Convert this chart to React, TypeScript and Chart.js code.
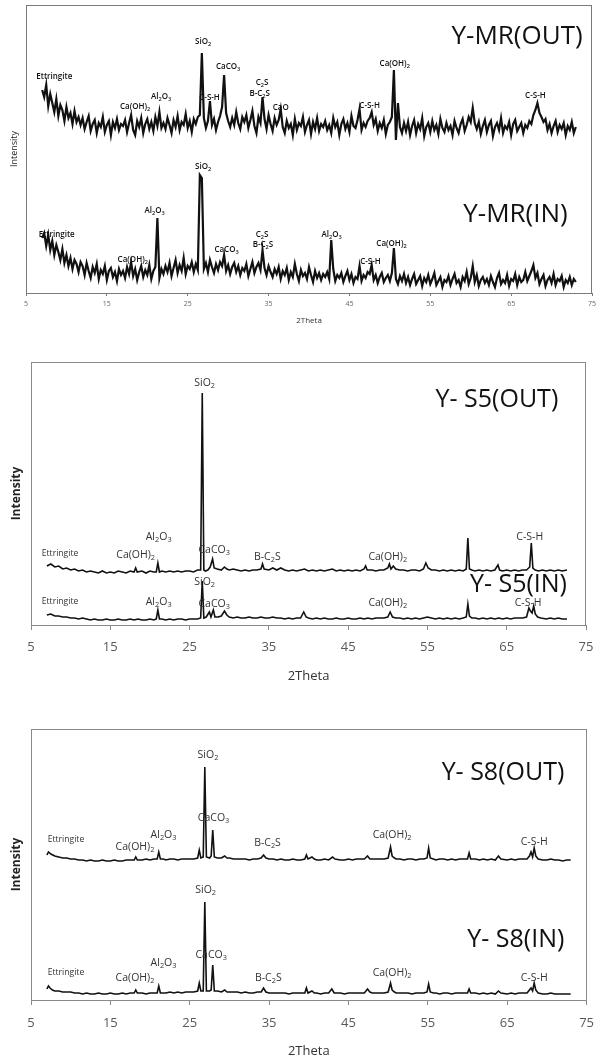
import { useEffect, useRef } from "react";
import { Chart, registerables } from "chart.js";

Chart.register(...registerables);

// ---------------- DATA ----------------
// Y-MR: dense noisy scans sampled every 0.25 deg from 7.0 to 73.0 (2Theta)
const MR_START = 7.0;
const MR_STEP = 0.25;
const mrOut = [
  203, 196, 208, 187, 199, 190, 181, 194, 177, 188, 183, 172, 186, 175, 180, 169, 182, 171, 176, 168,
  175, 164, 171, 177, 162, 169, 173, 160, 170, 166, 176, 161, 168, 172, 158, 171, 165, 174, 163, 169,
  167, 173, 161, 170, 178, 163, 158, 172, 166, 175, 160, 169, 174, 164, 171, 162, 176, 167, 181, 165,
  170, 164, 175, 168, 160, 173, 166, 177, 163, 171, 168, 179, 165, 172, 161, 174, 169, 176, 178, 240,
  175, 165, 172, 192, 168, 174, 163, 171, 177, 186, 218, 180, 172, 166, 175, 168, 181, 170, 164, 176,
  171, 178, 165, 173, 182, 167, 160, 176, 170, 196, 174, 164, 178, 169, 162, 175, 168, 173, 184, 166,
  160, 172, 165, 169, 158, 174, 163, 170, 167, 176, 161, 168, 173, 159, 171, 164, 175, 162, 169, 166,
  172, 163, 168, 160, 175, 166, 171, 158, 169, 174, 164, 170, 161, 177, 167, 165, 173, 184, 163, 170,
  166, 172, 175, 181, 168, 174, 162, 170, 165, 173, 159, 168, 171, 176, 223, 153, 190, 166, 160, 170,
  162, 171, 158, 167, 173, 160, 169, 164, 175, 157, 166, 170, 161, 172, 163, 168, 159, 174, 165, 161,
  170, 163, 167, 158, 172, 165, 160, 169, 174, 162, 168, 176, 171, 185, 170, 164, 171, 159, 167, 173,
  161, 168, 172, 157, 166, 170, 163, 175, 160, 167, 164, 171, 158, 169, 173, 162, 166, 170, 160, 168,
  165, 172, 169, 178, 183, 190, 180, 176, 171, 174, 163, 169, 160, 167, 172, 161, 168, 164, 170, 158,
  167, 163, 171, 160, 166,
];
const mrIn = [
  55, 60, 47, 58, 43, 52, 38, 48, 41, 33, 44, 30, 38, 27, 35, 24, 33, 29, 21, 31,
  27, 18, 30, 22, 15, 26, 20, 29, 14, 23, 19, 27, 13, 22, 25, 16, 21, 12, 24, 18,
  22, 15, 26, 19, 31, 17, 24, 13, 21, 27, 16, 23, 18, 28, 14, 22, 26, 75, 15, 24,
  19, 27, 21, 30, 17, 25, 33, 20, 28, 22, 35, 19, 27, 24, 31, 21, 29, 23, 118, 115,
  24, 30, 21, 33, 26, 20, 29, 23, 31, 27, 38, 22, 28, 19, 26, 30, 21, 27, 18, 25,
  22, 29, 17, 24, 31, 20, 26, 30, 23, 43, 25, 18, 27, 21, 16, 24, 19, 26, 14, 22,
  18, 25, 13, 21, 16, 29, 19, 12, 23, 17, 20, 14, 26, 18, 11, 22, 15, 20, 13, 19,
  16, 21, 14, 53, 24, 12, 18, 15, 20, 11, 17, 22, 13, 19, 10, 16, 14, 27, 12, 18,
  15, 21, 19, 28, 13, 18, 10, 16, 20, 11, 15, 18, 12, 20, 45, 14, 9, 17, 12, 19,
  10, 16, 8, 14, 19, 9, 13, 17, 7, 15, 11, 18, 9, 14, 20, 8, 12, 16, 6, 13,
  11, 17, 8, 14, 19, 10, 13, 6, 16, 12, 21, 9, 15, 27, 11, 18, 7, 13, 16, 10,
  14, 8, 17, 11, 6, 15, 20, 9, 13, 10, 18, 7, 14, 12, 19, 8, 16, 11, 13, 21,
  12, 17, 22, 28, 15, 20, 9, 14, 18, 7, 13, 16, 10, 19, 8, 14, 12, 17, 6, 13,
  10, 16, 8, 14, 11,
];

// Y-S5: [2Theta, intensity]
const s5Out: [number, number][] = [
  [7.0, 59], [7.5, 61], [8.0, 58], [8.5, 59], [9.0, 56], [9.5, 57], [10.0, 55], [10.5, 56], [11.0, 54], [11.5, 55],
  [12.0, 53], [12.5, 54], [13.0, 53], [13.5, 52], [14.0, 54], [14.5, 52], [15.0, 53], [15.5, 52], [16.0, 54], [16.5, 53],
  [17.0, 52], [17.5, 54], [18.0, 53], [18.2, 57], [18.4, 53], [19.0, 54], [19.5, 52], [20.0, 54], [20.5, 53], [20.8, 53],
  [21.0, 62], [21.2, 53], [21.5, 54], [22.0, 53], [22.5, 54], [23.0, 53], [23.5, 54], [24.0, 53], [24.5, 54], [25.0, 54],
  [25.5, 53], [26.0, 55], [26.4, 55], [26.6, 232], [26.8, 55], [27.0, 54], [27.3, 55], [27.6, 58], [27.9, 66], [28.1, 57],
  [28.5, 56], [29.0, 55], [29.4, 58], [29.7, 56], [30.0, 55], [30.5, 56], [31.0, 55], [31.5, 54], [32.0, 55], [32.5, 54],
  [33.0, 55], [33.5, 55], [34.0, 56], [34.2, 61], [34.4, 56], [35.0, 55], [35.5, 57], [36.0, 55], [36.5, 57], [37.0, 55],
  [37.5, 54], [38.0, 55], [38.5, 54], [39.0, 55], [39.5, 56], [40.0, 54], [40.5, 55], [41.0, 54], [41.5, 55], [42.0, 54],
  [42.5, 55], [43.0, 56], [43.5, 54], [44.0, 55], [44.5, 54], [45.0, 55], [45.5, 54], [46.0, 55], [46.5, 54], [47.0, 56],
  [47.2, 59], [47.4, 55], [48.0, 55], [48.5, 54], [49.0, 55], [49.5, 55], [50.0, 57], [50.2, 61], [50.4, 56], [50.7, 59],
  [51.0, 56], [51.5, 55], [52.0, 55], [52.5, 54], [53.0, 55], [53.5, 55], [54.0, 54], [54.5, 56], [54.8, 62], [55.1, 57],
  [55.5, 55], [56.0, 55], [56.5, 54], [57.0, 55], [57.5, 54], [58.0, 55], [58.5, 54], [59.0, 55], [59.5, 54], [59.9, 56],
  [60.1, 87], [60.3, 56], [60.6, 55], [61.0, 54], [61.5, 55], [62.0, 54], [62.5, 55], [63.0, 54], [63.5, 55], [63.9, 60],
  [64.1, 55], [64.5, 54], [65.0, 55], [65.5, 54], [66.0, 55], [66.5, 54], [67.0, 55], [67.5, 55], [67.9, 58], [68.1, 82],
  [68.3, 57], [68.6, 55], [69.0, 54], [69.5, 55], [70.0, 54], [70.5, 55], [71.0, 54], [71.5, 55], [72.0, 54], [72.6, 55],
];
const s5In: [number, number][] = [
  [7.0, 10], [7.5, 11], [8.0, 9], [8.5, 9], [9.0, 8], [9.5, 8], [10.0, 7], [10.5, 7], [11.0, 6], [11.5, 7],
  [12.0, 6], [12.5, 5], [13.0, 6], [13.5, 5], [14.0, 5], [14.5, 6], [15.0, 5], [15.5, 5], [16.0, 6], [16.5, 5],
  [17.0, 5], [17.5, 6], [18.0, 5], [18.5, 6], [19.0, 5], [19.5, 5], [20.0, 6], [20.5, 5], [20.8, 6], [21.0, 15],
  [21.2, 6], [21.5, 6], [22.0, 5], [22.5, 6], [23.0, 5], [23.5, 6], [24.0, 6], [24.5, 5], [25.0, 6], [25.5, 6],
  [26.0, 6], [26.4, 7], [26.6, 44], [26.8, 7], [27.1, 8], [27.5, 13], [27.7, 8], [28.0, 15], [28.2, 8], [28.6, 8],
  [29.0, 9], [29.4, 14], [29.7, 10], [30.0, 8], [30.5, 7], [31.0, 8], [31.5, 7], [32.0, 7], [32.5, 8], [33.0, 7],
  [33.5, 7], [34.0, 8], [34.5, 7], [35.0, 7], [35.5, 8], [36.0, 7], [36.5, 7], [37.0, 6], [37.5, 7], [38.0, 6],
  [38.5, 7], [39.0, 7], [39.4, 13], [39.7, 8], [40.0, 7], [40.5, 6], [41.0, 7], [41.5, 6], [42.0, 7], [42.5, 6],
  [43.0, 6], [43.5, 7], [44.0, 6], [44.5, 6], [45.0, 7], [45.5, 6], [46.0, 6], [46.5, 7], [47.0, 6], [47.5, 7],
  [48.0, 6], [48.5, 7], [49.0, 7], [49.5, 7], [50.0, 8], [50.3, 13], [50.6, 8], [51.0, 7], [51.5, 7], [52.0, 6],
  [52.5, 7], [53.0, 6], [53.5, 7], [54.0, 6], [54.5, 7], [55.0, 8], [55.5, 7], [56.0, 6], [56.5, 7], [57.0, 6],
  [57.5, 7], [58.0, 6], [58.5, 7], [59.0, 6], [59.5, 7], [59.9, 8], [60.1, 21], [60.3, 9], [60.6, 7], [61.0, 7],
  [61.5, 6], [62.0, 7], [62.5, 6], [63.0, 7], [63.5, 6], [64.0, 7], [64.5, 6], [65.0, 7], [65.5, 6], [66.0, 7],
  [66.5, 7], [67.0, 7], [67.5, 8], [67.8, 17], [68.0, 14], [68.2, 12], [68.4, 19], [68.6, 11], [68.9, 8], [69.3, 7],
  [70.0, 6], [70.5, 7], [71.0, 6], [71.5, 7], [72.0, 6], [72.6, 6],
];

// Y-S8: [2Theta, intensity]
const s8Out: [number, number][] = [
  [7.0, 145], [7.2, 148], [7.5, 146], [8.0, 144], [8.5, 143], [9.0, 142], [9.5, 142], [10.0, 141], [10.5, 141], [11.0, 140],
  [11.5, 140], [12.0, 139], [12.5, 140], [13.0, 139], [13.5, 139], [14.0, 140], [14.5, 139], [15.0, 139], [15.5, 140], [16.0, 139],
  [16.5, 139], [17.0, 140], [17.5, 140], [18.0, 140], [18.2, 143], [18.4, 140], [19.0, 140], [19.5, 141], [20.0, 140], [20.5, 141],
  [20.9, 141], [21.1, 148], [21.3, 141], [21.7, 141], [22.0, 140], [22.5, 141], [23.0, 141], [23.5, 140], [24.0, 141], [24.5, 141],
  [25.0, 141], [25.5, 141], [26.0, 142], [26.2, 150], [26.4, 142], [26.7, 143], [26.9, 233], [27.1, 143], [27.5, 142], [27.7, 144],
  [27.9, 170], [28.1, 143], [28.5, 142], [29.0, 142], [29.4, 144], [29.7, 142], [30.0, 142], [30.5, 141], [31.0, 141], [31.5, 141],
  [32.0, 141], [32.5, 140], [33.0, 141], [33.5, 141], [34.0, 142], [34.3, 145], [34.6, 142], [35.0, 141], [35.5, 141], [36.0, 140],
  [36.5, 141], [37.0, 140], [37.5, 140], [38.0, 141], [38.5, 140], [39.0, 140], [39.5, 141], [39.7, 145], [39.9, 141], [40.4, 143],
  [40.7, 141], [41.0, 140], [41.5, 140], [42.0, 141], [42.5, 140], [43.0, 143], [43.3, 141], [44.0, 140], [44.5, 140], [45.0, 141],
  [45.5, 140], [46.0, 141], [46.5, 141], [47.0, 141], [47.4, 144], [47.7, 141], [48.0, 141], [48.5, 141], [49.0, 141], [49.5, 141],
  [50.0, 142], [50.3, 153], [50.5, 144], [50.8, 142], [51.0, 141], [51.5, 141], [52.0, 140], [52.5, 141], [53.0, 141], [53.5, 140],
  [54.0, 141], [54.5, 141], [54.9, 142], [55.1, 152], [55.3, 142], [55.7, 141], [56.0, 140], [56.5, 141], [57.0, 141], [57.5, 140],
  [58.0, 141], [58.5, 140], [59.0, 141], [59.5, 141], [60.0, 141], [60.2, 147], [60.4, 141], [61.0, 141], [61.5, 140], [62.0, 141],
  [62.5, 140], [63.0, 141], [63.5, 140], [63.9, 144], [64.2, 141], [65.0, 140], [65.5, 141], [66.0, 140], [66.5, 141], [67.0, 141],
  [67.5, 141], [67.8, 144], [68.0, 148], [68.2, 143], [68.4, 152], [68.6, 144], [68.9, 141], [69.5, 140], [70.0, 140], [70.5, 141],
  [71.0, 140], [71.5, 140], [72.0, 139], [72.5, 140], [73.0, 140],
];
const s8In: [number, number][] = [
  [7.0, 11], [7.2, 14], [7.4, 12], [7.7, 10], [8.0, 9], [8.5, 9], [9.0, 8], [9.5, 8], [10.0, 8], [10.5, 7],
  [11.0, 7], [11.5, 6], [12.0, 7], [12.5, 6], [13.0, 6], [13.5, 7], [14.0, 6], [14.5, 6], [15.0, 7], [15.5, 6],
  [16.0, 6], [16.5, 7], [17.0, 6], [17.5, 7], [18.0, 7], [18.2, 10], [18.4, 7], [19.0, 7], [19.5, 6], [20.0, 7],
  [20.5, 7], [20.9, 7], [21.1, 14], [21.3, 7], [21.7, 7], [22.0, 7], [22.5, 8], [23.0, 7], [23.5, 8], [24.0, 7],
  [24.5, 8], [25.0, 8], [25.5, 8], [26.0, 9], [26.2, 17], [26.4, 9], [26.7, 9], [26.9, 98], [27.1, 9], [27.5, 9],
  [27.7, 10], [27.9, 35], [28.1, 9], [28.5, 9], [29.0, 8], [29.4, 10], [29.7, 8], [30.0, 8], [30.5, 8], [31.0, 8],
  [31.5, 7], [32.0, 8], [32.5, 7], [33.0, 7], [33.5, 8], [34.0, 8], [34.3, 12], [34.6, 8], [35.0, 7], [35.5, 7],
  [36.0, 7], [36.5, 7], [37.0, 7], [37.5, 6], [38.0, 7], [38.5, 7], [39.0, 7], [39.5, 7], [39.7, 12], [39.9, 7],
  [40.4, 9], [40.7, 7], [41.0, 7], [41.5, 6], [42.0, 7], [42.5, 7], [42.9, 11], [43.2, 7], [44.0, 7], [44.5, 6],
  [45.0, 7], [45.5, 7], [46.0, 7], [46.5, 7], [47.0, 7], [47.4, 11], [47.7, 8], [48.0, 7], [48.5, 7], [49.0, 7],
  [49.5, 7], [50.0, 8], [50.3, 17], [50.5, 10], [50.8, 8], [51.0, 7], [51.5, 7], [52.0, 7], [52.5, 7], [53.0, 6],
  [53.5, 7], [54.0, 7], [54.5, 7], [54.9, 8], [55.1, 16], [55.3, 8], [55.7, 7], [56.0, 7], [56.5, 6], [57.0, 7],
  [57.5, 7], [58.0, 6], [58.5, 7], [59.0, 7], [59.5, 7], [60.0, 7], [60.2, 11], [60.4, 7], [61.0, 7], [61.5, 6],
  [62.0, 7], [62.5, 6], [63.0, 7], [63.5, 6], [63.9, 9], [64.2, 7], [65.0, 6], [65.5, 7], [66.0, 6], [66.5, 7],
  [67.0, 7], [67.5, 7], [67.8, 10], [68.0, 12], [68.2, 9], [68.4, 17], [68.6, 10], [68.9, 7], [69.5, 6], [70.0, 6],
  [70.5, 7], [71.0, 6], [71.5, 6], [72.0, 6], [72.5, 6], [73.0, 6],
];

// Phase labels: text, 2Theta, intensity
type Lbl = { t: string; x: number; y: number };
const mrPhases: Lbl[] = [
  { t: "Ettringite", x: 8.5, y: 216 }, { t: "Ca(OH)2", x: 18.5, y: 186 }, { t: "Al2O3", x: 21.7, y: 196 },
  { t: "SiO2", x: 26.9, y: 251 }, { t: "C-S-H", x: 27.7, y: 195 }, { t: "CaCO3", x: 30.0, y: 226 },
  { t: "C2S", x: 34.2, y: 210 }, { t: "B-C2S", x: 33.9, y: 199 }, { t: "CaO", x: 36.5, y: 185 },
  { t: "C-S-H", x: 47.5, y: 187 }, { t: "Ca(OH)2", x: 50.6, y: 229 }, { t: "C-S-H", x: 68.0, y: 197 },
  { t: "Ettringite", x: 8.8, y: 58 }, { t: "Ca(OH)2", x: 18.2, y: 33 }, { t: "Al2O3", x: 20.9, y: 82 },
  { t: "SiO2", x: 26.9, y: 126 }, { t: "CaCO3", x: 29.8, y: 43 }, { t: "C2S", x: 34.2, y: 58 },
  { t: "B-C2S", x: 34.3, y: 48 }, { t: "Al2O3", x: 42.8, y: 58 }, { t: "C-S-H", x: 47.6, y: 31 },
  { t: "Ca(OH)2", x: 50.2, y: 49 },
];
const mrNames: Lbl[] = [{ t: "Y-MR(OUT)", x: 73.85, y: 256 }, { t: "Y-MR(IN)", x: 72.0, y: 78 }];

const s5Phases: Lbl[] = [
  { t: "Ettringite", x: 8.66, y: 71 }, { t: "Ca(OH)2", x: 18.2, y: 70 }, { t: "Al2O3", x: 21.1, y: 88 },
  { t: "SiO2", x: 26.9, y: 242 }, { t: "CaCO3", x: 28.1, y: 75 }, { t: "B-C2S", x: 34.8, y: 68 },
  { t: "Ca(OH)2", x: 50.0, y: 68 }, { t: "C-S-H", x: 67.9, y: 88 },
  { t: "Ettringite", x: 8.66, y: 23 }, { t: "Al2O3", x: 21.1, y: 23 }, { t: "SiO2", x: 26.9, y: 43 },
  { t: "CaCO3", x: 28.1, y: 21 }, { t: "Ca(OH)2", x: 50.0, y: 22 }, { t: "C-S-H", x: 67.7, y: 22 },
];
const s5Names: Lbl[] = [{ t: "Y- S5(OUT)", x: 71.5, y: 225 }, { t: "Y- S5(IN)", x: 72.6, y: 40 }];

const s8Phases: Lbl[] = [
  { t: "Ettringite", x: 9.4, y: 160 }, { t: "Ca(OH)2", x: 18.1, y: 153 }, { t: "Al2O3", x: 21.7, y: 165 },
  { t: "SiO2", x: 27.3, y: 245 }, { t: "CaCO3", x: 28.0, y: 182 }, { t: "B-C2S", x: 34.8, y: 157 },
  { t: "Ca(OH)2", x: 50.5, y: 165 }, { t: "C-S-H", x: 68.4, y: 158 },
  { t: "Ettringite", x: 9.4, y: 27 }, { t: "Ca(OH)2", x: 18.1, y: 22 }, { t: "Al2O3", x: 21.7, y: 37 },
  { t: "SiO2", x: 27.0, y: 110 }, { t: "CaCO3", x: 27.7, y: 45 }, { t: "B-C2S", x: 34.9, y: 22 },
  { t: "Ca(OH)2", x: 50.5, y: 27 }, { t: "C-S-H", x: 68.4, y: 22 },
];
const s8Names: Lbl[] = [{ t: "Y- S8(OUT)", x: 72.2, y: 227 }, { t: "Y- S8(IN)", x: 72.2, y: 60 }];

const X_MIN = 5;
const X_MAX = 75;
const X_STEP = 10;

// ---------------- STYLE / LAYOUT ----------------
const FONT = '"Open Sans", "Noto Sans", Arial, sans-serif';

const gridPts = (vals: number[]) => vals.map((v, i) => ({ x: MR_START + i * MR_STEP, y: v }));
const pairPts = (vals: [number, number][]) => vals.map(([x, y]) => ({ x, y }));

const PANELS = [
  {
    key: "mr", top: 0, h: 335, padTop: 5, padRight: 12, yWidth: 26, xHeight: 42, ymax: 288,
    series: [gridPts(mrOut), gridPts(mrIn)], lw: 2.2, join: "miter",
    phases: mrPhases, names: mrNames, phaseSize: 8, phaseWeight: "600", ettFactor: 1, nameSize: 26, phaseColor: "#111",
    tickSize: 7, tickPad: 4, tickLen: 3, titleSize: 8, titlePadBottom: 9,
    yTitleSize: 9, yTitlePad: 8.6, yBold: "normal", frame: "#7a7a7a", tickColor: "#666",
  },
  {
    key: "s5", top: 335, h: 350, padTop: 27, padRight: 18, yWidth: 31, xHeight: 60, ymax: 263,
    series: [pairPts(s5Out), pairPts(s5In)], lw: 1.6, join: "miter",
    phases: s5Phases, names: s5Names, phaseSize: 10.5, phaseWeight: "normal", ettFactor: 0.82, nameSize: 25, phaseColor: "#333",
    tickSize: 13, tickPad: 9, tickLen: 5, titleSize: 13, titlePadBottom: 0.5,
    yTitleSize: 12, yTitlePad: 9.8, yBold: "bold", frame: "#8a8a8a", tickColor: "#595959",
  },
  {
    key: "s8", top: 685, h: 375, padTop: 44, padRight: 11, yWidth: 31, xHeight: 60, ymax: 271,
    series: [pairPts(s8Out), pairPts(s8In)], lw: 1.6, join: "miter",
    phases: s8Phases, names: s8Names, phaseSize: 10.5, phaseWeight: "normal", ettFactor: 0.82, nameSize: 25, phaseColor: "#333",
    tickSize: 13, tickPad: 10, tickLen: 5, titleSize: 13, titlePadBottom: 0.5,
    yTitleSize: 12, yTitlePad: 9.8, yBold: "bold", frame: "#8a8a8a", tickColor: "#595959",
  },
];

function chemRuns(t: string) {
  const runs: { s: string; sub: boolean }[] = [];
  for (const ch of t) {
    const sub = ch >= "0" && ch <= "9";
    const last = runs[runs.length - 1];
    if (last && last.sub === sub) last.s += ch;
    else runs.push({ s: ch, sub });
  }
  return runs;
}

function makeLabelPlugin(p: any) {
  return {
    id: "xrdLabels",
    afterDatasetsDraw(chart: any) {
      const { ctx } = chart;
      const xs = chart.scales.x;
      const ys = chart.scales.y;
      ctx.save();
      ctx.textBaseline = "middle";
      ctx.fillStyle = p.phaseColor;
      for (const l of p.phases) {
        const size = l.t === "Ettringite" ? p.phaseSize * p.ettFactor : p.phaseSize;
        const fMain = `${p.phaseWeight} ${size}px ${FONT}`;
        const fSub = `${p.phaseWeight} ${size * 0.7}px ${FONT}`;
        const runs = chemRuns(l.t);
        let w = 0;
        for (const r of runs) {
          ctx.font = r.sub ? fSub : fMain;
          w += ctx.measureText(r.s).width;
        }
        let cx = xs.getPixelForValue(l.x) - w / 2;
        const cy = ys.getPixelForValue(l.y);
        ctx.textAlign = "left";
        for (const r of runs) {
          ctx.font = r.sub ? fSub : fMain;
          ctx.fillText(r.s, cx, cy + (r.sub ? size * 0.3 : 0));
          cx += ctx.measureText(r.s).width;
        }
      }
      ctx.fillStyle = "#111";
      ctx.textAlign = "right";
      ctx.font = `${p.nameSize}px ${FONT}`;
      for (const n of p.names) {
        ctx.fillText(n.t, xs.getPixelForValue(n.x), ys.getPixelForValue(n.y));
      }
      ctx.restore();
    },
  };
}

function makeFramePlugin(color: string) {
  return {
    id: "frame",
    afterDraw(chart: any) {
      const { ctx, chartArea } = chart;
      const { left, top, right, bottom } = chartArea;
      ctx.save();
      ctx.strokeStyle = color;
      ctx.lineWidth = 1;
      ctx.strokeRect(Math.round(left) + 0.5, Math.round(top) + 0.5, Math.round(right - left) - 1, Math.round(bottom - top));
      ctx.restore();
    },
  };
}

function Panel({ p }: { p: any }) {
  const ref = useRef<HTMLCanvasElement>(null);
  useEffect(() => {
    const chart = new Chart(ref.current as HTMLCanvasElement, {
      type: "line",
      data: {
        datasets: p.series.map((d: any) => ({
          data: d,
          borderColor: "#111",
          borderWidth: p.lw,
          borderJoinStyle: p.join,
          pointRadius: 0,
          tension: 0,
          fill: false,
        })),
      },
      options: {
        responsive: false,
        animation: false,
        devicePixelRatio: 1,
        events: [],
        layout: { padding: { left: 0, right: p.padRight, top: p.padTop, bottom: 0 } },
        plugins: { legend: { display: false }, tooltip: { enabled: false } },
        scales: {
          x: {
            type: "linear",
            min: X_MIN,
            max: X_MAX,
            ticks: {
              stepSize: X_STEP,
              autoSkip: false,
              maxRotation: 0,
              padding: p.tickPad,
              color: p.tickColor,
              font: { family: FONT, size: p.tickSize },
            },
            grid: { display: true, drawOnChartArea: false, drawTicks: true, tickLength: p.tickLen, color: p.frame },
            border: { display: false },
            title: {
              display: true,
              text: "2Theta",
              color: "#333",
              font: { family: FONT, size: p.titleSize },
              padding: { top: 0, bottom: p.titlePadBottom },
            },
            afterFit: (s: any) => { s.height = p.xHeight; },
          },
          y: {
            min: 0,
            max: p.ymax,
            ticks: { display: false },
            grid: { display: false },
            border: { display: false },
            title: {
              display: true,
              text: "Intensity",
              color: "#222",
              font: { family: FONT, size: p.yTitleSize, weight: p.yBold },
              padding: { top: p.yTitlePad, bottom: 0 },
            },
            afterFit: (s: any) => { s.width = p.yWidth; },
          },
        },
      },
      plugins: [makeLabelPlugin(p), makeFramePlugin(p.frame)],
    } as any);
    return () => chart.destroy();
  }, [p]);
  return (
    <canvas
      ref={ref}
      width={604}
      height={p.h}
      style={{ position: "absolute", left: 0, top: p.top, width: 604, height: p.h, display: "block" }}
    />
  );
}

export default function App() {
  return (
    <div style={{ position: "absolute", left: 0, top: 0, width: 604, height: 1060, background: "#fff" }}>
      {PANELS.map((p) => (
        <Panel key={p.key} p={p} />
      ))}
    </div>
  );
}
